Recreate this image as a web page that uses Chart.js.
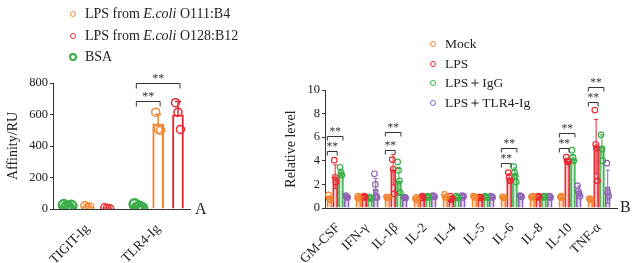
<!DOCTYPE html>
<html>
<head>
<meta charset="utf-8">
<script src="https://cdn.jsdelivr.net/npm/chart.js@4.4.1/dist/chart.umd.min.js"></script>
<style>
body { margin: 0; background: #fff; font-family: 'Liberation Serif', serif; color: #222; }
#wrap { position: relative; width: 634px; height: 263px; overflow: hidden; }
canvas { position: absolute; top: 0; }
.row { position: absolute; white-space: nowrap; line-height: 1; transform: translateY(-50%); }
.mk { position: absolute; border-radius: 50%; box-sizing: border-box; transform: translate(-50%, -50%); }
.tag { position: absolute; font-size: 16px; transform: translateY(-50%); }
</style>
</head>
<body>
<div id="wrap">
  <canvas id="chartA" width="215" height="263" style="left:0"></canvas>
  <canvas id="chartB" width="359" height="263" style="left:275px"></canvas>
  <div class="tag" style="left:195px;top:209px">A</div>
  <div class="tag" style="left:620px;top:207px">B</div>
</div>
<script>
// ---- panel A: binding affinity ----
const groupsA = ['TIGIT-Ig', 'TLR4-Ig'];
const seriesA = ['BSA', 'LPS from E.coli O111:B4', 'LPS from E.coli O128:B12'];
const colorsA = ['#3aad48', '#f4862f', '#e8282f'];
const meanA = [[15, 18], [12, 540], [5, 598]];
const sdA = [[5, 6], [4, 62], [2, 84]];
const repsA = [
  [[25, 12, 8, 20], [30, 10, 15, 5]],
  [[20, 8, 12], [615, 505, 500]],
  [[8, 3, 2], [675, 615, 505]]
];

// ---- panel B: cytokines ----
const groupsB = ['GM-CSF', 'IFN-γ', 'IL-1β', 'IL-2', 'IL-4', 'IL-5', 'IL-6', 'IL-8', 'IL-10', 'TNF-α'];
const seriesB = ['Mock', 'LPS', 'LPS＋IgG', 'LPS＋TLR4-Ig'];
const colorsB = ['#f4862f', '#e8282f', '#3aad48', '#8e63b5'];
const meanB = [
  [0.85, 0.9, 0.9, 0.8, 1.0, 0.95, 0.9, 0.95, 0.95, 0.75],
  [2.65, 0.95, 3.25, 0.9, 0.8, 0.9, 2.55, 0.95, 3.95, 5.2],
  [3.0, 0.85, 2.25, 0.95, 0.9, 0.95, 2.9, 0.95, 4.15, 5.2],
  [1.0, 1.6, 0.9, 1.0, 0.95, 0.95, 1.0, 0.95, 1.45, 1.8]
];
const sdB = [
  [0.15, 0.1, 0.1, 0.1, 0.15, 0.1, 0.1, 0.05, 0.1, 0.1],
  [1.0, 0.1, 1.3, 0.1, 0.2, 0.1, 0.35, 0.05, 0.2, 2.3],
  [0.3, 0.1, 1.1, 0.1, 0.15, 0.1, 0.5, 0.05, 0.35, 1.0],
  [0.1, 0.9, 0.1, 0.1, 0.15, 0.1, 0.15, 0.05, 0.4, 1.4]
];
const repsB = [
  [[1.1, 0.8, 0.7], [0.9, 1.0, 0.8], [0.95, 0.85, 0.9], [0.8, 0.9, 0.7], [1.15, 0.9, 0.95],
   [1.0, 0.95, 0.9], [0.95, 0.85, 0.9], [0.95, 0.9, 1.0], [0.95, 1.0, 0.9], [0.8, 0.75, 0.7]],
  [[4.05, 2.6, 2.2], [0.9, 1.0, 0.95], [4.1, 3.3, 1.2], [0.85, 1.0, 0.9], [1.0, 0.7, 0.8],
   [0.95, 0.9, 0.85], [3.0, 2.6, 2.3], [0.95, 0.9, 1.0], [4.3, 4.0, 3.9], [8.3, 5.4, 5.1, 2.3]],
  [[3.45, 3.0, 2.8], [0.95, 0.8, 0.85], [3.9, 3.2, 2.3, 1.3], [1.0, 0.9, 0.95], [1.0, 0.85, 0.9],
   [1.0, 0.95, 0.9], [3.5, 3.0, 2.7, 2.2], [0.95, 0.9, 1.0], [4.9, 4.3, 4.0], [6.2, 5.0, 4.0]],
  [[1.05, 0.95, 0.9], [2.9, 2.0, 1.0, 0.9], [0.95, 0.9, 0.85], [1.05, 1.0, 0.95], [1.05, 0.9, 1.0],
   [1.0, 0.95, 0.9], [1.05, 1.0, 0.95], [0.95, 1.0, 0.9], [1.9, 1.4, 1.2, 1.0], [3.8, 1.3, 1.0]]
];

// significance brackets: [group, fromSeries, toSeries, y]
const bracketsA = [[1, 0, 2, 800], [1, 0, 1, 686]];
const bracketsB = [
  [0, 0, 1, 4.85], [0, 0, 2, 6.1],
  [2, 0, 1, 4.9], [2, 0, 2, 6.4],
  [6, 0, 1, 3.85], [6, 0, 2, 5.1],
  [8, 0, 1, 5.1], [8, 0, 2, 6.35],
  [9, 0, 1, 9.0], [9, 0, 2, 10.25]
];

Chart.defaults.font.family = "'Liberation Serif', serif";
Chart.defaults.color = '#222';
Chart.defaults.animation = false;

function alpha(hex, a) {
  const n = parseInt(hex.slice(1), 16);
  return 'rgba(' + (n >> 16) + ',' + ((n >> 8) & 255) + ',' + (n & 255) + ',' + a + ')';
}

function xPos(g, s, n, pitch) { return g + (s - (n - 1) / 2) * pitch; }

const errorBars = {
  id: 'errorBars',
  beforeDatasetsDraw(chart) {
    const ctx = chart.ctx, y = chart.scales.y;
    chart.data.datasets.forEach((ds, di) => {
      if (!ds.sd) return;
      chart.getDatasetMeta(di).data.forEach((el, i) => {
        const m = ds.data[i].y, s = ds.sd[i];
        const yt = y.getPixelForValue(m + s), yb = y.getPixelForValue(Math.max(m - s, 0));
        ctx.save();
        ctx.strokeStyle = ds.borderColor;
        ctx.lineWidth = ds.errWidth;
        ctx.beginPath();
        ctx.moveTo(el.x, yt); ctx.lineTo(el.x, yb);
        ctx.moveTo(el.x - ds.capHalf, yt); ctx.lineTo(el.x + ds.capHalf, yt);
        ctx.moveTo(el.x - ds.capHalf, yb); ctx.lineTo(el.x + ds.capHalf, yb);
        ctx.stroke();
        ctx.restore();
      });
    });
  }
};

const brackets = {
  id: 'brackets',
  afterDraw(chart, args, opts) {
    const ctx = chart.ctx, x = chart.scales.x, y = chart.scales.y;
    ctx.save();
    ctx.strokeStyle = '#333';
    ctx.fillStyle = '#333';
    ctx.lineWidth = 1;
    ctx.font = opts.fontSize + "px 'Liberation Serif'";
    ctx.textAlign = 'center';
    ctx.textBaseline = 'bottom';
    opts.items.forEach(([g, a, b, v]) => {
      const x1 = x.getPixelForValue(xPos(g, a, opts.n, opts.pitch)) - 2;
      const x2 = x.getPixelForValue(xPos(g, b, opts.n, opts.pitch)) + 2;
      const yy = Math.round(y.getPixelForValue(v)) + 0.5;
      ctx.beginPath();
      ctx.moveTo(x1, yy + opts.drop); ctx.lineTo(x1, yy); ctx.lineTo(x2, yy); ctx.lineTo(x2, yy + opts.drop);
      ctx.stroke();
      ctx.fillText('**', (x1 + x2) / 2, yy + 1);
    });
    ctx.restore();
  }
};

function buildDatasets(groups, series, colors, means, sds, reps, pitch, jitter, style) {
  const n = series.length;
  const bars = series.map((name, s) => ({
    type: 'bar',
    label: name,
    data: groups.map((g, gi) => ({ x: xPos(gi, s, n, pitch), y: means[s][gi] })),
    sd: sds[s],
    backgroundColor: style.fill(colors[s]),
    borderColor: colors[s],
    borderWidth: style.barBorder,
    barThickness: style.barWidth,
    grouped: false,
    errWidth: style.errWidth,
    capHalf: style.capHalf,
    order: 2
  }));
  const dots = series.map((name, s) => {
    const pts = [];
    groups.forEach((g, gi) => {
      const r = reps[s][gi];
      r.forEach((v, k) => pts.push({ x: xPos(gi, s, n, pitch) + (k - (r.length - 1) / 2) * jitter, y: v }));
    });
    return {
      type: 'scatter',
      label: name + ' points',
      data: pts,
      borderColor: colors[s],
      backgroundColor: 'rgba(255,255,255,0)',
      pointRadius: style.radius(s),
      pointBorderWidth: style.dotBorder(s),
      order: 1
    };
  });
  return bars.concat(dots);
}

function axisOpts(groups, min, max, yMax, step, title, yWidth, xHeight) {
  return {
    x: {
      type: 'linear', min: min, max: max, offset: false,
      afterBuildTicks: sc => { sc.ticks = groups.map((g, i) => ({ value: i })); },
      afterFit: sc => { sc.height = xHeight; },
      ticks: { autoSkip: false, minRotation: 45, maxRotation: 45, padding: 4,
               font: { size: 13.5 }, color: '#222', callback: v => groups[v] },
      grid: { display: false },
      border: { display: true, color: '#333', width: 1 }
    },
    y: {
      min: 0, max: yMax,
      afterFit: sc => { sc.width = yWidth; },
      ticks: { stepSize: step, padding: 2, font: { size: 12.5 }, color: '#222' },
      grid: { drawOnChartArea: false, tickLength: 3, color: '#333' },
      border: { display: true, color: '#333', width: 1 },
      title: { display: true, text: title, font: { size: 14 }, color: '#222', padding: 0 }
    }
  };
}

new Chart(document.getElementById('chartA'), {
  type: 'bar',
  data: {
    datasets: buildDatasets(groupsA, seriesA, colorsA, meanA, sdA, repsA, 0.28, 0.035, {
      fill: () => '#ffffff', barBorder: 2, barWidth: 11, errWidth: 1.5, capHalf: 3,
      radius: s => (s === 0 ? 5 : 4), dotBorder: s => (s === 0 ? 2.5 : 1.5)
    })
  },
  options: {
    responsive: false,
    layout: { padding: { left: 5, top: 83, right: 25, bottom: 0 } },
    plugins: { legend: { display: false }, tooltip: { enabled: false },
               brackets: { items: bracketsA, n: 3, pitch: 0.28, drop: 5, fontSize: 12 } },
    scales: axisOpts(groupsA, -0.486, 1.45, 800, 200, 'Affinity/RU', 48, 54)
  },
  plugins: [errorBars, brackets]
});

new Chart(document.getElementById('chartB'), {
  type: 'bar',
  data: {
    datasets: buildDatasets(groupsB, seriesB, colorsB, meanB, sdB, repsB, 0.2, 0.03, {
      fill: c => alpha(c, 0.3), barBorder: 1, barWidth: 5, errWidth: 1, capHalf: 2,
      radius: () => 2.8, dotBorder: () => 1.2
    })
  },
  options: {
    responsive: false,
    layout: { padding: { left: 8, top: 90, right: 17, bottom: 0 } },
    plugins: { legend: { display: false }, tooltip: { enabled: false },
               brackets: { items: bracketsB, n: 4, pitch: 0.2, drop: 4, fontSize: 11.5 } },
    scales: axisOpts(groupsB, -0.45, 9.62, 10, 2, 'Relative level', 42, 55)
  },
  plugins: [errorBars, brackets]
});

// ---- HTML legends (for the italic E.coli) ----
function legend(series, colors, x, y0, dy, size, marker) {
  const wrap = document.getElementById('wrap');
  series.forEach((name, i) => {
    const m = marker(i);
    const mk = document.createElement('div');
    mk.className = 'mk';
    mk.style.cssText = 'left:' + x + 'px;top:' + (y0 + i * dy) + 'px;width:' + m.d + 'px;height:' + m.d +
      'px;border:' + m.w + 'px solid ' + colors[i];
    wrap.appendChild(mk);
    const row = document.createElement('div');
    row.className = 'row';
    row.style.cssText = 'left:' + (x + 12) + 'px;top:' + (y0 + i * dy) + 'px;font-size:' + size + 'px';
    row.innerHTML = name.replace('E.coli', '<i>E.coli</i>');
    wrap.appendChild(row);
  });
}
// panel A legend lists the LPS entries first, then BSA
const orderA = [1, 2, 0];
legend(orderA.map(i => seriesA[i]), orderA.map(i => colorsA[i]), 73, 14, 21.5, 14,
       i => (orderA[i] === 0 ? { d: 8, w: 2.2 } : { d: 6, w: 1.2 }));
legend(seriesB, colorsB, 433, 44, 19.5, 13.5, () => ({ d: 6, w: 1.2 }));
</script>
</body>
</html>
